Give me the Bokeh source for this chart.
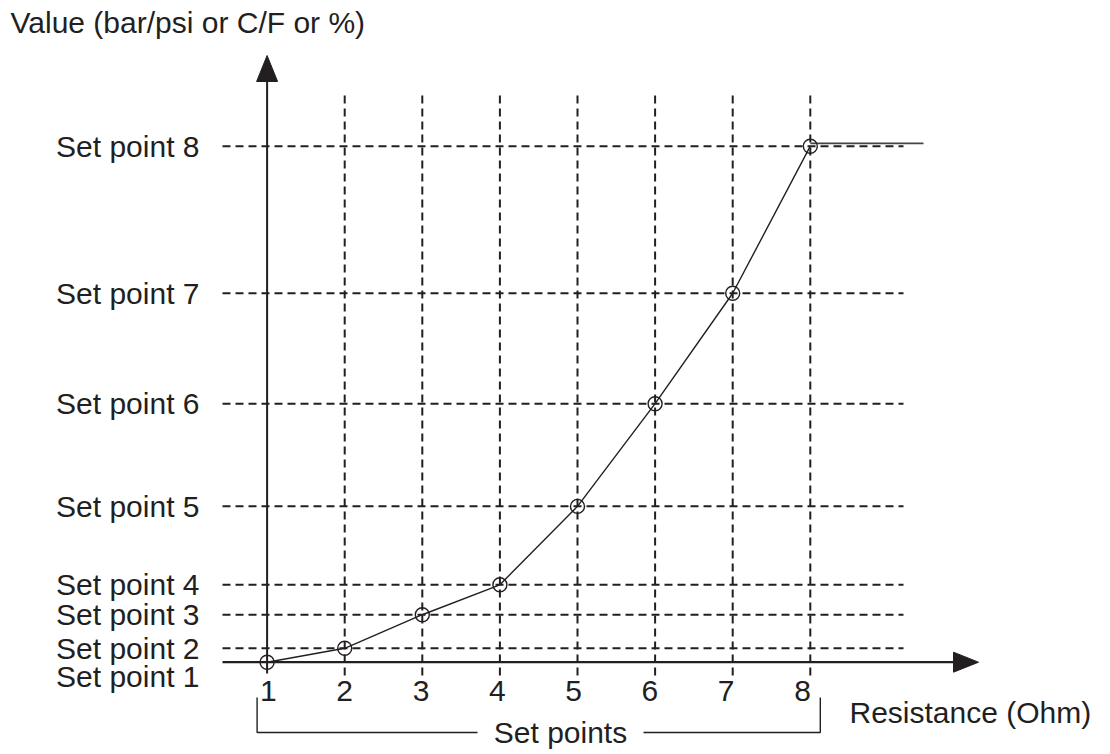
from bokeh.plotting import figure
from bokeh.models import Range1d, ColumnDataSource
from bokeh.embed import file_html
from bokeh.resources import INLINE
from bokeh.core.properties import value

# ---- data ----
set_points = [1, 2, 3, 4, 5, 6, 7, 8]
values = [0, 2.7, 9.2, 15.0, 30.2, 50.1, 71.5, 100]
point_labels = ["Set point 1", "Set point 2", "Set point 3", "Set point 4",
                "Set point 5", "Set point 6", "Set point 7", "Set point 8"]
tick_labels = ["1", "2", "3", "4", "5", "6", "7", "8"]
y_title = "Value (bar/psi or C/F or %)"
x_title = "Resistance (Ohm)"
bracket_title = "Set points"

INK = "#231f20"
FONT = value("Liberation Sans")
FS = "30px"

# pixel scales (px per data unit)
PX_X = 77.6
PX_Y = 5.16

W, H = 1100, 752
ORG = 0  # screen position of the frame's top-left corner
x0 = 1 - (266.6 - ORG) / PX_X
y1 = (661.7 - ORG) / PX_Y

p = figure(width=W, height=H,
           x_range=Range1d(x0, x0 + W / PX_X),
           y_range=Range1d(y1 - H / PX_Y, y1),
           output_backend="svg", toolbar_location=None,
           x_axis_type=None, y_axis_type=None, min_border=0)
p.grid.visible = False
p.outline_line_color = None
p.background_fill_color = "white"
p.border_fill_color = "white"

def px_x(px):
    return 1 + (px - 266.6) / PX_X

def px_y(py):
    return (661.7 - py) / PX_Y

xmin, xmax = set_points[0], set_points[-1]
ymin, ymax = values[0], values[-1]

# vertical dashed grid lines (2..8)
vx = set_points[1:]
p.segment(x0=vx, y0=[px_y(675)] * len(vx), x1=vx, y1=[px_y(93)] * len(vx),
          line_color=INK, line_width=2, line_dash="8 5")

# horizontal dashed lines (set point 2..8)
hy = values[1:]
p.segment(x0=[px_x(222)] * len(hy), y0=hy, x1=[px_x(903)] * len(hy), y1=hy,
          line_color=INK, line_width=2, line_dash="8 5")

# y axis with arrow
p.segment(x0=[xmin], y0=[px_y(673)], x1=[xmin], y1=[px_y(60)],
          line_color=INK, line_width=2)
hw = 10.5 / PX_X
p.patch(x=[xmin - hw, xmin, xmin + hw], y=[px_y(81), px_y(55), px_y(81)],
        fill_color=INK, line_color=INK)

# x axis with arrow
p.segment(x0=[px_x(222)], y0=[ymin], x1=[px_x(955)], y1=[ymin],
          line_color=INK, line_width=2.2)
hh = 10 / PX_Y
p.patch(x=[px_x(953), px_x(978), px_x(953)], y=[ymin + hh, ymin, ymin - hh],
        fill_color=INK, line_color=INK)

# curve + saturation line
p.line(x=set_points, y=values, line_color=INK, line_width=1.4)
p.line(x=[xmax, px_x(923)], y=[ymax + 0.55, ymax + 0.55], line_color="#444444", line_width=1.6)
p.scatter(x=set_points, y=values, marker="circle", size=14,
          fill_color=None, line_color=INK, line_width=1.4)

# set point labels (left)
lab_y = list(values)
lab_y[0] = values[0] - 14.5 / PX_Y
src = ColumnDataSource(dict(x=[px_x(199)] * len(values), y=lab_y, t=point_labels))
p.text(x="x", y="y", text="t", source=src, text_align="right",
       text_baseline="middle", text_font=FONT, text_font_size=FS, text_color=INK)

# tick numbers
tsrc = ColumnDataSource(dict(x=set_points, y=[px_y(690)] * len(set_points), t=tick_labels,
                             dx=[-(i - 2) * 1.3 for i in set_points]))
p.text(x="x", y="y", text="t", x_offset="dx", source=tsrc, text_align="center",
       text_baseline="middle", text_font=FONT, text_font_size=FS, text_color=INK)

# bracket
bl, br = xmin - 10 / PX_X, xmax + 10 / PX_X
bt, bb = px_y(697), px_y(732)
p.line(x=[bl, bl, px_x(477)], y=[bt, bb, bb], line_color=INK, line_width=1.4)
p.line(x=[px_x(643), br, br], y=[bb, bb, bt], line_color=INK, line_width=1.4)
p.text(x=[px_x(560)], y=[bb], text=[bracket_title], text_align="center",
       text_baseline="middle", text_font=FONT, text_font_size=FS, text_color=INK)

# axis titles
p.text(x=[px_x(10)], y=[px_y(22)], text=[y_title], text_align="left",
       text_baseline="middle", text_font=FONT, text_font_size=FS, text_color=INK)
p.text(x=[px_x(849)], y=[px_y(712)], text=[x_title], text_align="left",
       text_baseline="middle", text_font=FONT, text_font_size=FS, text_color=INK)

open("out.html", "w").write(file_html(p, INLINE))
